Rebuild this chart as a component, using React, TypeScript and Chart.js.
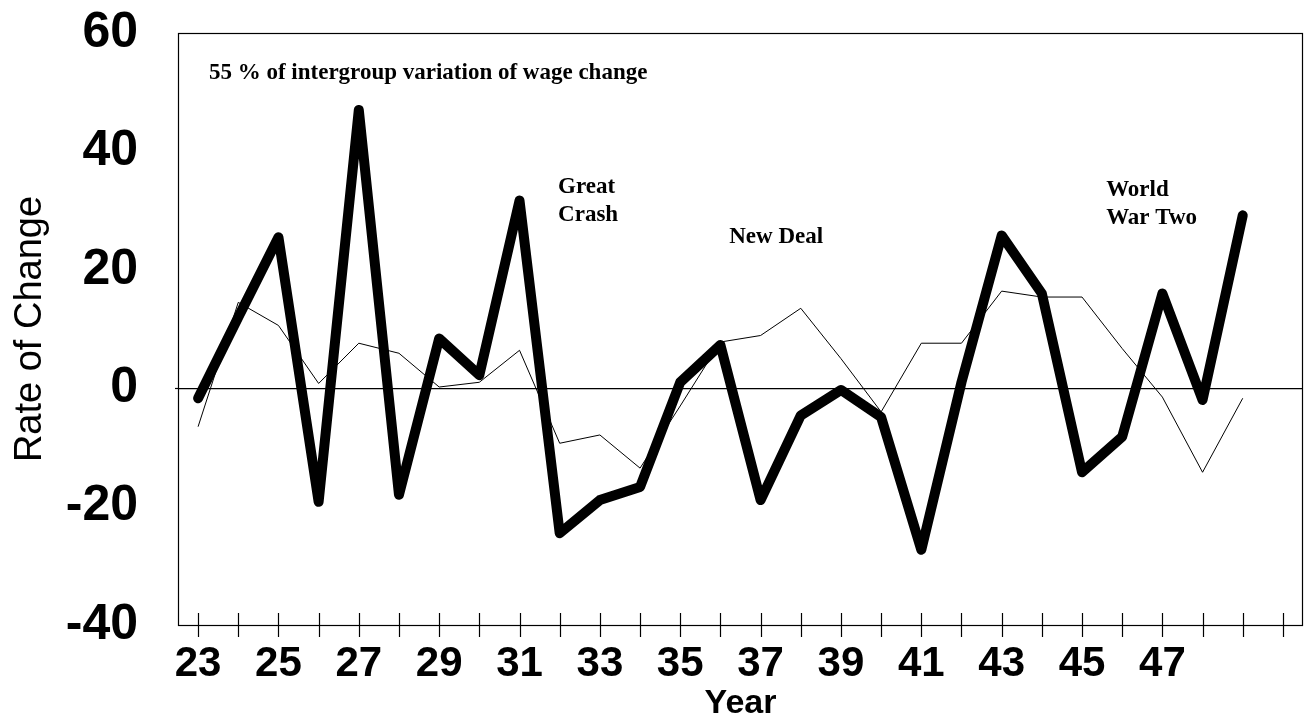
import React, { useEffect, useRef } from "react";
import { Chart, registerables } from "chart.js";

Chart.register(...registerables);

// Categories (years 1923..1950) – tick marks at every year
const years: string[] = [
  "23", "24", "25", "26", "27", "28", "29", "30", "31", "32", "33", "34", "35", "36",
  "37", "38", "39", "40", "41", "42", "43", "44", "45", "46", "47", "48", "49", "50",
];

// Tick labels that are printed on the x axis
const shownYearLabels: string[] = ["23", "25", "27", "29", "31", "33", "35", "37", "39", "41", "43", "45", "47"];

// Thick series (1923..1949)
const thickSeries: number[] = [
  -1.7, 12, 25.5, -19.2, 47, -18, 8.4, 2.2, 31.7, -24.5, -18.9, -16.7, 1, 7.3,
  -18.9, -4.6, -0.3, -4.9, -27.3, 1, 25.8, 16, -14.2, -8.2, 16, -2, 29.2,
];

// Thin series (1923..1949)
const thinSeries: number[] = [
  -6.5, 14.5, 10.6, 0.8, 7.6, 5.9, 0.2, 1.0, 6.4, -9.3, -7.9, -13.5, -3, 7.8,
  8.9, 13.5, 5, -4, 7.6, 7.6, 16.4, 15.4, 15.4, 6.7, -1.5, -14.2, -1.7,
];

// Y axis tick values
const yTicks: number[] = [-40, -20, 0, 20, 40, 60];

// Annotation texts
const annotationTexts: string[][] = [
  ["55 % of intergroup variation of wage change"],
  ["Great", "Crash"],
  ["New Deal"],
  ["World", "War Two"],
];
// Annotation anchors (category index, value)
const annotationAnchors: [number, number][] = [
  [0.27, 53.3],
  [8.96, 33.9],
  [13.22, 25.5],
  [22.6, 33.4],
];

const framePlugin = {
  id: "framePlugin",
  afterDraw(chart: any) {
    const { ctx, chartArea } = chart;
    const x = chart.scales.x;
    const y = chart.scales.y;
    ctx.save();
    ctx.strokeStyle = "#000";
    ctx.lineWidth = 1.2;
    ctx.strokeRect(chartArea.left + 0.5, chartArea.top + 0.5, chartArea.right - chartArea.left - 1, chartArea.bottom - chartArea.top);
    // crossing ticks on x axis
    for (let i = 0; i < x.ticks.length; i++) {
      const px = Math.round(x.getPixelForTick(i)) + 0.5;
      ctx.beginPath();
      ctx.moveTo(px, chartArea.bottom - 12);
      ctx.lineTo(px, chartArea.bottom + 12);
      ctx.stroke();
    }
    // zero line slightly extending left
    const zy = Math.round(y.getPixelForValue(0)) + 0.5;
    ctx.beginPath();
    ctx.moveTo(chartArea.left - 3, zy);
    ctx.lineTo(chartArea.left, zy);
    ctx.stroke();
    // annotations
    ctx.fillStyle = "#000";
    ctx.font = 'bold 23px "Liberation Serif", "Times New Roman", serif';
    ctx.textAlign = "left";
    ctx.textBaseline = "middle";
    annotationTexts.forEach((lines, k) => {
      const [ix, v] = annotationAnchors[k];
      const px = x.getPixelForValue(ix);
      const py = y.getPixelForValue(v);
      lines.forEach((t, j) => ctx.fillText(t, px, py + j * 28));
    });
    ctx.restore();
  },
};

export default function App() {
  const ref = useRef<HTMLCanvasElement | null>(null);
  useEffect(() => {
    if (!ref.current) return;
    const chart = new Chart(ref.current, {
      type: "line",
      data: {
        labels: years,
        datasets: [
          {
            label: "thick",
            data: thickSeries,
            borderColor: "#000",
            borderWidth: 10,
            borderJoinStyle: "round",
            borderCapStyle: "round",
            pointRadius: 0,
            tension: 0,
            fill: false,
          },
          {
            label: "thin",
            data: thinSeries,
            borderColor: "#000",
            borderWidth: 1,
            pointRadius: 0,
            tension: 0,
            fill: false,
          },
        ],
      },
      options: {
        animation: false,
        responsive: false,
        devicePixelRatio: 1,
        layout: { padding: { top: 33, right: 2, left: 0, bottom: 0 } },
        plugins: { legend: { display: false }, tooltip: { enabled: false } },
        scales: {
          x: {
            type: "category",
            offset: true,
            grid: { display: false, drawTicks: false, offset: false },
            border: { display: false },
            ticks: {
              autoSkip: false,
              maxRotation: 0,
              padding: 14,
              color: "#000",
              font: { family: '"Liberation Sans", Arial, sans-serif', size: 42, weight: "bold" },
              callback: function (this: any, _v: any, i: number) {
                const lab = years[i];
                return shownYearLabels.includes(lab) ? lab : "";
              },
            },
            title: {
              display: true,
              text: "Year",
              color: "#000",
              font: { family: '"Liberation Sans", Arial, sans-serif', size: 34, weight: "bold", lineHeight: 1 },
              padding: { top: 0, bottom: 2 },
            },
            afterFit: (s: any) => {
              s.height = 98;
              s.paddingLeft = 0;
              s.paddingRight = 0;
            },
          },
          y: {
            min: yTicks[0],
            max: yTicks[yTicks.length - 1],
            afterBuildTicks: (s: any) => {
              s.ticks = yTicks.map((v) => ({ value: v }));
            },
            grid: {
              drawTicks: false,
              color: (c: any) => (c.tick && c.tick.value === 0 ? "#000" : "rgba(0,0,0,0)"),
              lineWidth: 1.2,
            },
            border: { display: false },
            ticks: {
              padding: 40,
              color: "#000",
              font: { family: '"Liberation Sans", Arial, sans-serif', size: 50, weight: "bold" },
            },
            title: {
              display: true,
              text: "Rate of Change",
              color: "#000",
              font: { family: '"Liberation Sans", Arial, sans-serif', size: 38, weight: "normal", lineHeight: 1 },
              padding: { top: 12, bottom: 0 },
            },
            afterFit: (s: any) => {
              s.width = 178;
              s.paddingTop = 0;
              s.paddingBottom = 0;
            },
          },
        },
      },
      plugins: [framePlugin],
    });
    return () => chart.destroy();
  }, []);
  return (
    <div style={{ position: "fixed", left: 0, top: 0, width: 1305, height: 723, background: "#fff" }}>
      <canvas ref={ref} width={1305} height={723} style={{ display: "block", width: 1305, height: 723 }} />
    </div>
  );
}
